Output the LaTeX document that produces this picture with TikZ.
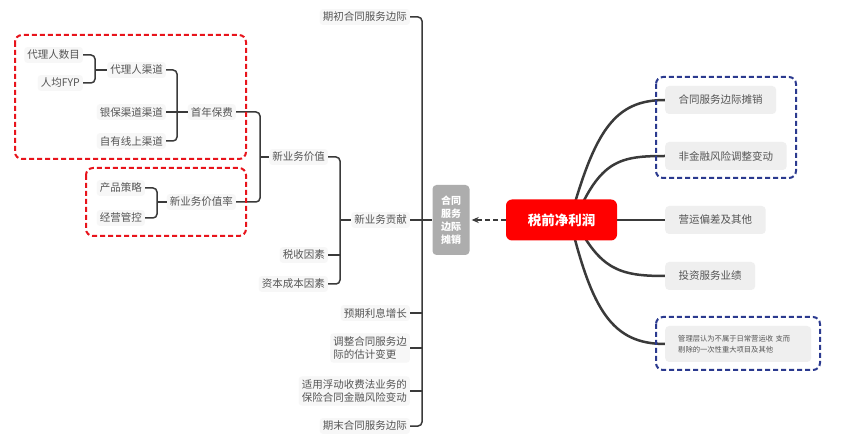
\documentclass[tikz,border=0pt]{standalone}
\usepackage{fontspec}
\setmainfont{Noto Sans CJK SC}
\usetikzlibrary{backgrounds,calc,arrows.meta}
\definecolor{txt}{HTML}{555555}
\definecolor{nodebg}{HTML}{F7F7F7}
\definecolor{rnodebg}{HTML}{EFEFEF}
\definecolor{lc}{HTML}{3A3A3A}
\definecolor{rootred}{HTML}{FF0000}
\definecolor{greybox}{HTML}{ADADAD}
\definecolor{dashred}{HTML}{E8141C}
\definecolor{dashblue}{HTML}{2B3A8F}
\tikzset{
  lnode/.style={anchor=east, text=txt, font=\fontsize{10.5}{13.5}\selectfont, fill=nodebg, rounded corners=3pt, inner xsep=3pt, inner ysep=3pt, align=left},
  rnode/.style={anchor=west, text=txt, font=\fontsize{10.5}{13.5}\selectfont, fill=rnodebg, rounded corners=4pt, inner xsep=13.5pt, minimum height=28pt, align=left},
  br/.style={draw=lc, line width=1.5pt, rounded corners=4pt},
  rcurve/.style={draw=lc, line width=2.5pt},
  redbox/.style={draw=dashred, line width=2pt, dash pattern=on 5pt off 3pt, rounded corners=7pt},
  bluebox/.style={draw=dashblue, line width=2pt, dash pattern=on 5pt off 3pt, rounded corners=7pt}
}
\begin{document}
\begin{tikzpicture}[x=1pt,y=-1pt]
\useasboundingbox (0,0) rectangle (846,443);

% left nodes
\node[lnode] (n1) at (83,55) {代理人数目};
\node[lnode] (n2) at (83,83) {人均FYP};
\node[lnode] (n3) at (166,70) {代理人渠道};
\node[lnode] (n4) at (166,112) {银保渠道渠道};
\node[lnode] (n5) at (166,141) {自有线上渠道};
\node[lnode] (n6) at (236,112) {首年保费};
\node[lnode] (n7) at (145,188) {产品策略};
\node[lnode] (n8) at (145,218) {经营管控};
\node[lnode] (n9) at (236,202) {新业务价值率};
\node[lnode] (n10) at (328,157) {新业务价值};
\node[lnode] (n11) at (328,255) {税收因素};
\node[lnode] (n12) at (328,284) {资本成本因素};
\node[lnode] (n13) at (410,220) {新业务贡献};
\node[lnode] (n14) at (410,17) {期初合同服务边际};
\node[lnode] (n15) at (410,313) {预期利息增长};
\node[lnode] (n16) at (410,348) {调整合同服务边\\际的估计变更};
\node[lnode] (n17) at (410,391) {适用浮动收费法业务的\\保险合同金融风险变动};
\node[lnode] (n18) at (410,426) {期末合同服务边际};

% grey box and root
\node[fill=greybox, rounded corners=4pt, minimum width=37pt, minimum height=70pt, text=white, font=\bfseries\fontsize{10}{13}\selectfont, align=center, inner sep=1pt] (cs) at (451,220) {合同\\服务\\边际\\摊销};
\node[fill=rootred, rounded corners=6pt, minimum width=111pt, minimum height=41pt, text=white, font=\bfseries\fontsize{13.5}{16}\selectfont] (root) at (561.5,220) {税前净利润};

% right nodes
\node[rnode] (r1) at (665,100) {合同服务边际摊销};
\node[rnode] (r2) at (665,156) {非金融风险调整变动};
\node[rnode] (r3) at (665,220) {营运偏差及其他};
\node[rnode] (r4) at (665,276) {投资服务业绩};
\node[rnode, font=\fontsize{7.3}{10.5}\selectfont, minimum height=36pt, inner xsep=13pt, text width=120pt] (r5) at (665,344) {管理层认为不属于日常营运收 支而\\剔除的一次性重大项目及其他};

% brackets
\coordinate (v1) at (95,70);
\draw[br] (n1.east) -| (v1) |- (n2.east);
\draw[br] (v1) -- (n3.west);

\coordinate (v2) at (177,112);
\draw[br] (n3.east) -| (v2) |- (n5.east);
\draw[br] (n4.east) -- (v2) -- (n6.west);

\coordinate (v4) at (157,202);
\draw[br] (n7.east) -| (v4) |- (n8.east);
\draw[br] (v4) -- (n9.west);

\coordinate (v3) at (260,157);
\draw[br] (n6.east) -| (v3) |- (n9.east);
\draw[br] (v3) -- (n10.west);

\coordinate (v5) at (340,220);
\draw[br] (n10.east) -| (v5) |- (n12.east);
\draw[br] (n11.east) -- (n11.east -| v5);
\draw[br] (v5) -- (n13.west);

\coordinate (vt) at (422,220);
\draw[br] (n14.east) -| (vt) |- (n18.east);
\draw[br] (n13.east) -- (vt) -- (cs.west);
\draw[br] (n15.east) -- (n15.east -| vt);
\draw[br] (n16.east) -- (n16.east -| vt);
\draw[br] (n17.east) -- (n17.east -| vt);

% dashed arrow
\draw[draw=lc, line width=1.3pt, dash pattern=on 5pt off 3pt, -{Stealth[length=7pt,width=6pt]}, shorten >=2pt] (root.west) -- (cs.east);

% right curves (behind the root node)
\begin{scope}[on background layer]
\fill[white] (0,0) rectangle (846,443);
\draw[rcurve] (570,220) .. controls (595,130) and (615,100) .. (r1.west);
\draw[rcurve] (575,220) .. controls (600,160) and (620,156) .. (r2.west);
\draw[rcurve] (root.east) -- (r3.west);
\draw[rcurve] (575,220) .. controls (600,270) and (620,276) .. (r4.west);
\draw[rcurve] (570,220) .. controls (592,310) and (612,344) .. (r5.west);
\end{scope}

% dashed boxes
\draw[redbox] (15,35) rectangle (246,159);
\draw[redbox] (86,168) rectangle (246,236);
\draw[bluebox] (656,77) rectangle (796,178);
\draw[bluebox] (656,317) rectangle (820,370);
\end{tikzpicture}
\end{document}
